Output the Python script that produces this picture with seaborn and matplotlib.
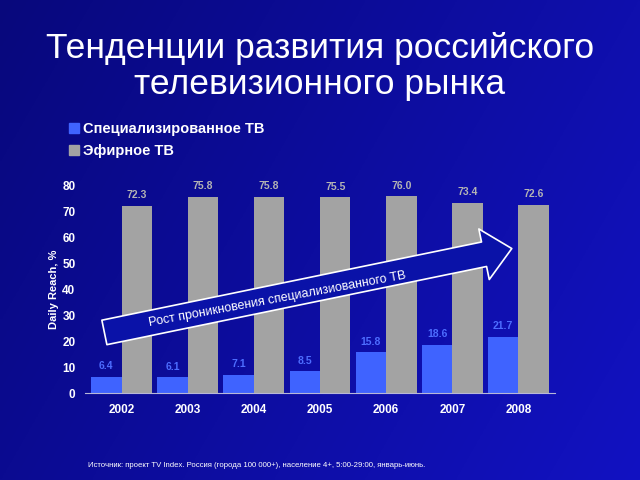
import numpy as np
import pandas as pd
import matplotlib
matplotlib.use("Agg")
import matplotlib.pyplot as plt
import seaborn as sns
from matplotlib.patches import FancyArrowPatch
from matplotlib.lines import Line2D

years = ["2002", "2003", "2004", "2005", "2006", "2007", "2008"]
special_tv = [6.4, 6.1, 7.1, 8.5, 15.8, 18.6, 21.7]
air_tv = [72.3, 75.8, 75.8, 75.5, 76.0, 73.4, 72.6]
series_names = ["Специализированное ТВ", "Эфирное ТВ"]
title = "Тенденции развития российского\nтелевизионного рынка"
arrow_text = "Рост проникновения специализиованного ТВ"
source_text = "Источник: проект TV Index. Россия (города 100 000+), население 4+, 5:00-29:00, январь-июнь."
ylabel = "Daily Reach, %"

df = pd.DataFrame({
    "year": years * 2,
    "value": special_tv + air_tv,
    "series": [series_names[0]] * len(years) + [series_names[1]] * len(years),
})

sns.set_style("white")
plt.rcParams["font.family"] = ["Liberation Sans", "DejaVu Sans"]

blue_bar = "#3f63ff"
gray_bar = "#a3a3a3"

fig = plt.figure(figsize=(6.4, 4.8), dpi=100)

# background gradient
bg = fig.add_axes([0, 0, 1, 1], zorder=-10)
yy, xx = np.mgrid[0:1:200j, 0:1:200j]
t = np.clip(0.7 * xx + 0.3 * (1 - yy), 0, 1)
c0 = np.array([0x08, 0x08, 0x7c]) / 255
c1 = np.array([0x12, 0x12, 0xc2]) / 255
img = c0[None, None, :] * (1 - t[..., None]) + c1[None, None, :] * t[..., None]
bg.imshow(img, extent=[0, 1, 0, 1], aspect="auto", origin="lower")
bg.axis("off")

ax = fig.add_axes([0.133, 0.181, 0.734, 0.432])
ax.patch.set_alpha(0)
sns.barplot(data=df, x="year", y="value", hue="series", ax=ax,
            palette=[blue_bar, gray_bar], width=0.92, saturation=1,
            edgecolor="none", legend=False)

ax.set_ylim(0, 80)
ax.set_xlim(-0.55, 6.55)
ax.set_yticks(range(0, 81, 10))
ax.tick_params(axis="y", colors="white", length=3, width=0.8, pad=4)
ax.tick_params(axis="x", colors="white", length=0, pad=8)
for lab in ax.get_yticklabels() + ax.get_xticklabels():
    lab.set_fontweight("bold")
    lab.set_fontsize(8.5)
    lab.set_color("white")
ax.set_xlabel("")
ax.set_ylabel(ylabel, color="white", fontsize=8, fontweight="bold", labelpad=2)
for s in ["top", "right", "left"]:
    ax.spines[s].set_visible(False)
ax.spines["bottom"].set_color("#b8b8d8")
ax.spines["bottom"].set_linewidth(0.8)

# value labels
containers = ax.containers
ax.bar_label(containers[0], labels=[f"{v:.1f}" for v in special_tv], padding=4,
             color="#4d6dff", fontsize=7.5, fontweight="bold")
ax.bar_label(containers[1], labels=[f"{v:.1f}" for v in air_tv], padding=4,
             color="#b4b4b4", fontsize=7.5, fontweight="bold")

# arrow
arrow = FancyArrowPatch((-0.3, 23.2), (5.94, 56.0),
                        arrowstyle="simple,head_width=1.55,head_length=0.85,tail_width=0.75",
                        mutation_scale=24, facecolor="#0a12a8", edgecolor="white",
                        linewidth=1.2, zorder=5, clip_on=False)
ax.add_patch(arrow)
ax.text(2.35, 36.3, arrow_text, rotation=10.5, rotation_mode="anchor",
        ha="center", va="center", color="white", fontsize=9, zorder=6)

# legend
handles = [Line2D([], [], marker="s", linestyle="none", markersize=7, color=blue_bar),
           Line2D([], [], marker="s", linestyle="none", markersize=7, color=gray_bar)]
leg = fig.legend(handles, series_names, loc="upper left", bbox_to_anchor=(0.095, 0.757),
                 frameon=False, handletextpad=0.1, labelspacing=0.5, borderaxespad=0,
                 handlelength=1.0, prop={"weight": "bold", "size": 10.5})
for txt in leg.get_texts():
    txt.set_color("white")

fig.text(0.5, 0.862, title, ha="center", va="center", color="white", fontsize=25.5,
         linespacing=1.1)
fig.text(0.137, 0.031, source_text, ha="left", va="center", color="white", fontsize=5.6)

fig.savefig("out.png", dpi=100)
